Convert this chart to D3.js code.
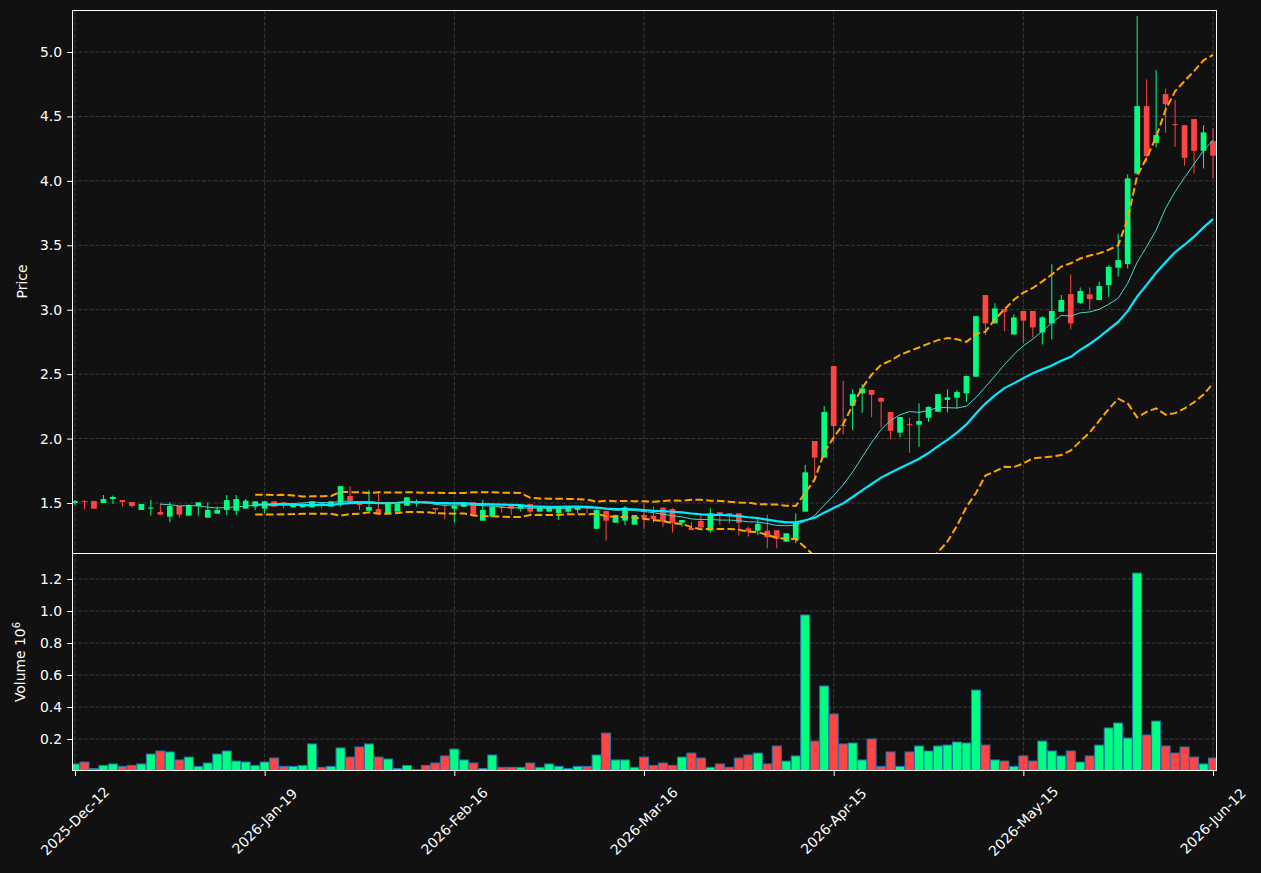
<!DOCTYPE html>
<html><head><meta charset="utf-8">
<script src="https://cdn.jsdelivr.net/npm/d3@7"></script>
<style>html,body{margin:0;padding:0;background:#111111;} svg{display:block;font-family:"DejaVu Sans",sans-serif;}</style>
</head><body><svg id="chart" width="1261" height="873"></svg>
<script>
const tickIndex = [0,20,40,60,80,100,120];
const tickLabels = ['2025-Dec-12','2026-Jan-19','2026-Feb-16','2026-Mar-16','2026-Apr-15','2026-May-15','2026-Jun-12'];
const priceTicks = [1.5,2.0,2.5,3.0,3.5,4.0,4.5,5.0];
const volumeTicks = [0.2,0.4,0.6,0.8,1.0,1.2];

const open = [1.500,1.515,1.515,1.500,1.531,1.523,1.508,1.446,1.460,1.430,
1.394,1.477,1.402,1.477,1.386,1.417,1.446,1.440,1.456,1.472,
1.456,1.513,1.505,1.466,1.466,1.466,1.505,1.472,1.487,1.554,
1.492,1.440,1.453,1.420,1.433,1.479,1.497,1.502,1.461,1.484,
1.456,1.470,1.505,1.363,1.394,1.472,1.477,1.456,1.492,1.433,
1.433,1.420,1.433,1.446,1.466,1.300,1.438,1.347,1.363,1.332,
1.407,1.402,1.464,1.453,1.347,1.306,1.360,1.285,1.428,1.420,
1.420,1.303,1.285,1.285,1.288,1.200,1.213,1.433,1.981,1.852,
2.563,2.105,2.255,2.351,2.377,2.315,2.206,2.046,2.112,2.108,
2.162,2.208,2.300,2.317,2.351,2.480,3.114,2.894,3.005,2.808,
2.990,2.990,2.824,2.894,2.984,3.121,3.054,3.119,3.075,3.191,
3.326,3.354,4.057,4.580,4.295,4.673,4.440,4.432,4.479,4.233,
4.308];
const high = [1.523,1.523,1.517,1.562,1.557,1.523,1.508,1.492,1.523,1.497,
1.505,1.477,1.490,1.505,1.505,1.472,1.562,1.562,1.531,1.513,
1.513,1.513,1.505,1.495,1.495,1.513,1.505,1.513,1.632,1.632,
1.492,1.600,1.575,1.500,1.497,1.544,1.528,1.505,1.461,1.487,
1.497,1.500,1.505,1.523,1.472,1.475,1.477,1.484,1.492,1.466,
1.459,1.466,1.472,1.466,1.466,1.450,1.440,1.407,1.476,1.407,
1.497,1.472,1.464,1.460,1.368,1.355,1.407,1.459,1.430,1.420,
1.420,1.316,1.373,1.407,1.290,1.265,1.420,1.795,1.981,2.253,
2.563,2.449,2.382,2.423,2.380,2.320,2.210,2.167,2.162,2.273,
2.250,2.345,2.382,2.377,2.490,2.950,3.114,3.049,3.005,2.963,
2.990,2.990,2.950,3.352,3.114,3.274,3.173,3.173,3.217,3.346,
3.590,4.050,5.278,4.787,4.860,4.717,4.630,4.432,4.479,4.432,
4.407];
const low = [1.484,1.451,1.455,1.500,1.492,1.472,1.464,1.446,1.402,1.405,
1.350,1.386,1.402,1.402,1.386,1.417,1.407,1.407,1.456,1.446,
1.420,1.472,1.459,1.466,1.466,1.466,1.459,1.472,1.472,1.505,
1.446,1.440,1.410,1.420,1.433,1.479,1.472,1.495,1.415,1.373,
1.350,1.470,1.400,1.363,1.394,1.425,1.407,1.433,1.407,1.433,
1.433,1.368,1.420,1.420,1.420,1.300,1.208,1.347,1.330,1.332,
1.300,1.347,1.316,1.270,1.316,1.290,1.310,1.270,1.330,1.342,
1.247,1.240,1.250,1.148,1.148,1.200,1.187,1.433,1.690,1.852,
1.968,2.033,2.066,2.200,2.165,2.087,1.997,2.010,1.890,1.937,
2.130,2.208,2.203,2.234,2.286,2.480,2.803,2.894,2.834,2.808,
2.739,2.785,2.731,2.770,2.984,2.847,3.044,2.997,3.075,3.100,
3.256,3.320,4.050,4.148,4.259,4.373,4.264,4.117,4.057,4.096,
4.019];
const close = [1.515,1.510,1.456,1.531,1.547,1.508,1.477,1.492,1.464,1.410,
1.477,1.410,1.484,1.505,1.446,1.446,1.523,1.531,1.518,1.513,
1.513,1.472,1.497,1.495,1.495,1.513,1.490,1.513,1.631,1.518,
1.487,1.469,1.420,1.497,1.497,1.544,1.505,1.497,1.448,1.477,
1.477,1.497,1.400,1.446,1.472,1.460,1.456,1.484,1.433,1.466,
1.459,1.466,1.472,1.466,1.459,1.446,1.363,1.407,1.466,1.407,
1.386,1.376,1.355,1.347,1.368,1.290,1.310,1.420,1.415,1.407,
1.347,1.278,1.337,1.234,1.223,1.265,1.350,1.738,1.852,2.206,
2.097,2.100,2.345,2.390,2.340,2.286,2.061,2.167,2.108,2.136,
2.245,2.345,2.320,2.361,2.485,2.950,2.894,3.010,2.984,2.940,
2.915,2.863,2.940,2.990,3.075,2.894,3.145,3.083,3.183,3.333,
3.385,4.019,4.580,4.192,4.355,4.595,4.437,4.179,4.233,4.376,
4.195];
const volume = [0.044,0.056,0.016,0.035,0.044,0.029,0.035,0.044,0.106,0.125,
0.119,0.069,0.087,0.029,0.050,0.106,0.125,0.062,0.056,0.035,
0.056,0.081,0.029,0.029,0.035,0.169,0.023,0.029,0.144,0.087,
0.150,0.169,0.087,0.075,0.016,0.035,0.008,0.035,0.050,0.094,
0.137,0.069,0.050,0.016,0.100,0.023,0.023,0.023,0.050,0.023,
0.044,0.029,0.016,0.029,0.029,0.100,0.237,0.069,0.069,0.023,
0.087,0.035,0.050,0.035,0.087,0.112,0.081,0.023,0.044,0.023,
0.081,0.100,0.112,0.044,0.156,0.062,0.094,0.975,0.187,0.531,
0.356,0.169,0.175,0.069,0.200,0.029,0.119,0.029,0.119,0.156,
0.125,0.156,0.162,0.181,0.175,0.506,0.162,0.069,0.062,0.029,
0.094,0.062,0.187,0.125,0.094,0.125,0.056,0.094,0.162,0.269,
0.300,0.206,1.237,0.225,0.312,0.156,0.112,0.150,0.087,0.044,
0.081];

const UP = '#00ff80', DOWN = '#ff4444', VOL_EDGE = '#1f77b4';
const BG = '#111111', GRID = '#3a3a3a', FG = '#ffffff';

// indicators derived from close
function sma(n){ return close.map((c,i)=> i<n-1 ? null : d3.mean(close.slice(i-n+1,i+1))); }
const ma10 = sma(10), ma20 = sma(20);
const bbUpper = [], bbLower = [];
close.forEach((c,i)=>{
  if(i<19){ bbUpper.push(null); bbLower.push(null); return; }
  const w = close.slice(i-19,i+1), m = d3.mean(w);
  const sd = Math.sqrt(d3.mean(w, v=>(v-m)*(v-m)));
  bbUpper.push(m+2*sd); bbLower.push(m-2*sd);
});

const L=72, R=1217, T=10, MID=553, B=771;
const svg = d3.select('#chart');
svg.append('rect').attr('width',1261).attr('height',873).attr('fill',BG);

const idx = d3.range(close.length);
const x = d3.scaleLinear().domain([-0.316,120.42]).range([L,R]);
const step = x(1)-x(0);
const yP = d3.scaleLinear().domain([1.5-50/128.857, 5.0+42/128.857]).range([MID,T]);
const yV = d3.scaleLinear().domain([0,(B-MID)/160]).range([B,MID]);

const defs = svg.append('defs');
defs.append('clipPath').attr('id','clipP').append('rect').attr('x',L).attr('y',T).attr('width',R-L).attr('height',MID-T);
defs.append('clipPath').attr('id','clipV').append('rect').attr('x',L).attr('y',MID).attr('width',R-L).attr('height',B-MID);

// grids
const grid = svg.append('g').attr('stroke',GRID).attr('stroke-width',1).attr('stroke-dasharray','4.1,1.8');
tickIndex.forEach(t=>{
  grid.append('line').attr('x1',x(t)).attr('x2',x(t)).attr('y1',T).attr('y2',B);
});
priceTicks.forEach(p=>grid.append('line').attr('x1',L).attr('x2',R).attr('y1',yP(p)).attr('y2',yP(p)));
volumeTicks.forEach(v=>grid.append('line').attr('x1',L).attr('x2',R).attr('y1',yV(v)).attr('y2',yV(v)));

// volume bars
const vg = svg.append('g').attr('clip-path','url(#clipV)');
vg.selectAll('rect').data(idx).join('rect')
  .attr('x',i=>x(i)-step*0.475).attr('width',step*0.95)
  .attr('y',i=>yV(volume[i])).attr('height',i=>yV(0)-yV(volume[i]))
  .attr('fill',i=>close[i]>=open[i]?UP:DOWN)
  .attr('stroke',VOL_EDGE).attr('stroke-width',1);

// candles
const cg = svg.append('g').attr('clip-path','url(#clipP)');
cg.selectAll('line.wick').data(idx).join('line').attr('class','wick')
  .attr('x1',i=>x(i)).attr('x2',i=>x(i))
  .attr('y1',i=>yP(high[i])).attr('y2',i=>yP(low[i]))
  .attr('stroke',i=>close[i]>=open[i]?UP:DOWN).attr('stroke-width',1);
cg.selectAll('rect.body').data(idx).join('rect').attr('class','body')
  .attr('x',i=>x(i)-step*0.3).attr('width',step*0.6)
  .attr('y',i=>yP(Math.max(open[i],close[i])))
  .attr('height',i=>Math.max(1,yP(Math.min(open[i],close[i]))-yP(Math.max(open[i],close[i]))))
  .attr('fill',i=>close[i]>=open[i]?UP:DOWN);

// lines
const line = arr => d3.line().defined(i=>arr[i]!=null).x(i=>x(i)).y(i=>yP(arr[i]))(idx);
cg.append('path').attr('d',line(ma20)).attr('fill','none').attr('stroke','#00eaff').attr('stroke-width',2.2);
cg.append('path').attr('d',line(ma10)).attr('fill','none').attr('stroke','#45d6c8').attr('stroke-width',1);
cg.append('path').attr('d',line(bbUpper)).attr('fill','none').attr('stroke','#ffa500').attr('stroke-width',2).attr('stroke-dasharray','7.5,3.3');
cg.append('path').attr('d',line(bbLower)).attr('fill','none').attr('stroke','#ffa500').attr('stroke-width',2).attr('stroke-dasharray','7.5,3.3');

// spines
const sp = svg.append('g').attr('stroke',FG).attr('stroke-width',1).attr('fill','none');
sp.append('rect').attr('x',L+0.5).attr('y',T+0.5).attr('width',R-L-1).attr('height',B-T-1);
sp.append('line').attr('x1',L).attr('x2',R).attr('y1',MID+0.5).attr('y2',MID+0.5);

// axes
function styleAxis(g){
  g.select('.domain').remove();
  g.selectAll('.tick line').attr('stroke',FG);
  g.selectAll('.tick text').attr('fill',FG).attr('font-size','13.9px').attr('font-family','DejaVu Sans');
}
svg.append('g').attr('transform',`translate(${L},0)`)
  .call(d3.axisLeft(yP).tickValues(priceTicks).tickFormat(d3.format('.1f')).tickSize(5).tickPadding(5)).call(styleAxis);
svg.append('g').attr('transform',`translate(${L},0)`)
  .call(d3.axisLeft(yV).tickValues(volumeTicks).tickFormat(d3.format('.1f')).tickSize(5).tickPadding(5)).call(styleAxis);
const xa = svg.append('g').attr('transform',`translate(0,${B})`)
  .call(d3.axisBottom(x).tickValues(tickIndex).tickFormat(()=>'' ).tickSize(5));
xa.select('.domain').remove();
xa.selectAll('.tick line').attr('stroke',FG);

tickIndex.forEach((t,k)=>{
  svg.append('text').attr('transform',`translate(${x(t)},${821}) rotate(-45)`)
    .attr('text-anchor','middle').attr('dominant-baseline','central')
    .attr('fill',FG).attr('font-size','13.9px').text(tickLabels[k]);
});

svg.append('text').attr('transform',`translate(22,${(T+MID)/2}) rotate(-90)`)
  .attr('text-anchor','middle').attr('dominant-baseline','central').attr('fill',FG).attr('font-size','13.9px').text('Price');
const vl = svg.append('text').attr('transform',`translate(20,${(MID+B)/2}) rotate(-90)`)
  .attr('text-anchor','middle').attr('dominant-baseline','central').attr('fill',FG).attr('font-size','13.9px');
vl.append('tspan').text('Volume  10');
vl.append('tspan').attr('dy','-0.45em').attr('font-size','10px').text('6');
</script></body></html>
